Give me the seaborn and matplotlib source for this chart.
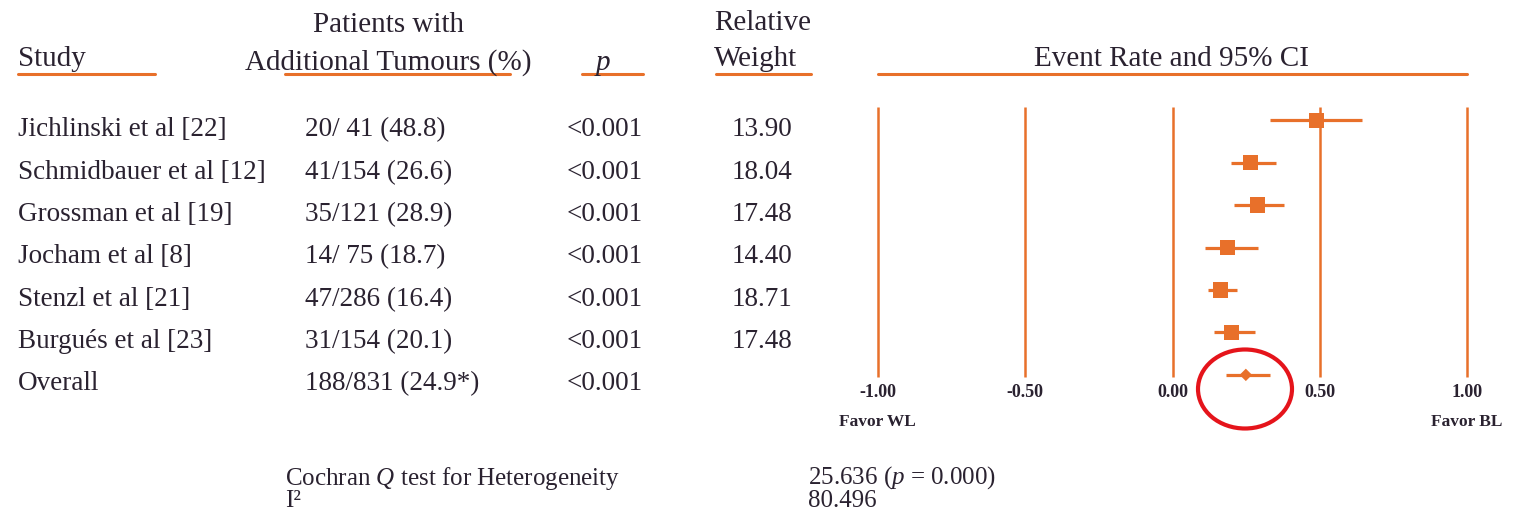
import matplotlib
matplotlib.use("Agg")
import matplotlib.pyplot as plt
from matplotlib.lines import Line2D
from matplotlib.patches import Ellipse
import pandas as pd
import seaborn as sns

# data
studies = ["Jichlinski et al [22]", "Schmidbauer et al [12]", "Grossman et al [19]",
           "Jocham et al [8]", "Stenzl et al [21]", "Burgués et al [23]", "Overall"]
events = [20, 41, 35, 14, 47, 31, 188]
totals = [41, 154, 121, 75, 286, 154, 831]
percents = ["48.8", "26.6", "28.9", "18.7", "16.4", "20.1", "24.9*"]
p_values = ["<0.001"] * 7
weights = ["13.90", "18.04", "17.48", "14.40", "18.71", "17.48", ""]
rates = [0.488, 0.266, 0.289, 0.187, 0.164, 0.201, 0.249]
ci_low = [0.33, 0.20, 0.21, 0.11, 0.12, 0.14, 0.18]
ci_high = [0.645, 0.35, 0.38, 0.29, 0.22, 0.28, 0.33]
ticks = [-1.0, -0.5, 0.0, 0.5, 1.0]
tick_labels = ["-1.00", "-0.50", "0.00", "0.50", "1.00"]
cochran_q = "25.636"
cochran_p = "0.000"
i_squared = "80.496"

ORANGE = "#E8702A"
TXT = "#2a2230"
W, H = 1515, 511

sns.set_style("white")
plt.rcParams["font.family"] = ["Liberation Serif", "DejaVu Serif"]
plt.rcParams["mathtext.fontset"] = "custom"
plt.rcParams["mathtext.rm"] = "Liberation Serif"
plt.rcParams["mathtext.it"] = "Liberation Serif:italic"


def fx(px):
    return px / W


def fy(py):
    return 1 - py / H


fig = plt.figure(figsize=(W / 100, H / 100), dpi=100)

# forest panel
ax = fig.add_axes([fx(878), fy(377), fx(1467) - fx(878), fy(107) - fy(377)])
df = pd.DataFrame({
    "rate": rates,
    "row": list(range(len(studies))),
    "kind": ["study"] * (len(studies) - 1) + ["overall"],
})
ylo, yhi = -0.31, 6.05
ax.vlines(ticks, ylo, yhi, color=ORANGE, lw=1.8, zorder=1, clip_on=False)
ax.hlines(df["row"], ci_low, ci_high, color=ORANGE, lw=2.3, zorder=3, clip_on=False)
sns.scatterplot(data=df, x="rate", y="row", style="kind", size="kind",
                markers={"study": "s", "overall": "D"},
                sizes={"study": 120, "overall": 40},
                color=ORANGE, linewidth=0, legend=False, ax=ax, zorder=4)
for c in ax.collections:
    c.set_clip_on(False)
ax.set_xlim(-1, 1)
ax.set_ylim(yhi, ylo)
ax.set_xticks(ticks)
ax.set_xticklabels(tick_labels, fontsize=13, color=TXT, fontweight="bold")
ax.tick_params(axis="x", length=0, pad=5)
ax.set_yticks([])
ax.set_xlabel("")
ax.set_ylabel("")
ax.grid(False)
for s in ax.spines.values():
    s.set_visible(False)

# headers
hdr = dict(fontsize=21, color=TXT, va="center")
fig.text(fx(18), fy(59), "Study", ha="left", **hdr)
fig.text(fx(388), fy(25), "Patients with", ha="center", **hdr)
fig.text(fx(388), fy(63), "Additional Tumours (%)", ha="center", **hdr)
fig.text(fx(603), fy(63), "p", ha="center", style="italic", **hdr)
fig.text(fx(714), fy(23), "Relative", ha="left", **hdr)
fig.text(fx(714), fy(59), "Weight", ha="left", **hdr)
fig.text(fx(1172), fy(59), "Event Rate and 95% CI", ha="center", **hdr)

for x0, x1 in [(18, 155), (285, 510), (582, 643), (716, 811), (878, 1467)]:
    fig.add_artist(Line2D([fx(x0), fx(x1)], [fy(74), fy(74)], color=ORANGE, lw=2.2))

# table rows
row = dict(fontsize=19.5, color=TXT, va="center")
for i, name in enumerate(studies):
    y = fy(130 + 42.3 * i)
    fig.text(fx(18), y, name, ha="left", **row)
    fig.text(fx(305), y, f"{events[i]}/{totals[i]:3d} ({percents[i]})", ha="left", **row)
    fig.text(fx(567), y, p_values[i], ha="left", **row)
    fig.text(fx(762), y, weights[i], ha="center", **row)

fig.text(fx(877), fy(422), "Favor WL", ha="center", va="center", fontsize=12.5,
         color=TXT, fontweight="bold")
fig.text(fx(1467), fy(422), "Favor BL", ha="center", va="center", fontsize=12.5,
         color=TXT, fontweight="bold")

# heterogeneity footer
foot = dict(fontsize=18, color=TXT, va="center")
fig.text(fx(285), fy(478), r"Cochran $Q$ test for Heterogeneity", ha="left", **foot)
fig.text(fx(285), fy(501), "I²", ha="left", **foot)
fig.text(fx(808), fy(478), f"{cochran_q} ($p$ = {cochran_p})", ha="left", **foot)
fig.text(fx(808), fy(501), i_squared, ha="left", **foot)

# red highlight ring around the overall estimate
fig.add_artist(Ellipse((fx(1245), fy(389)), width=fx(94), height=79 / H,
                       fill=False, edgecolor="#E5141B", lw=3))

fig.savefig("out.png", dpi=100)
